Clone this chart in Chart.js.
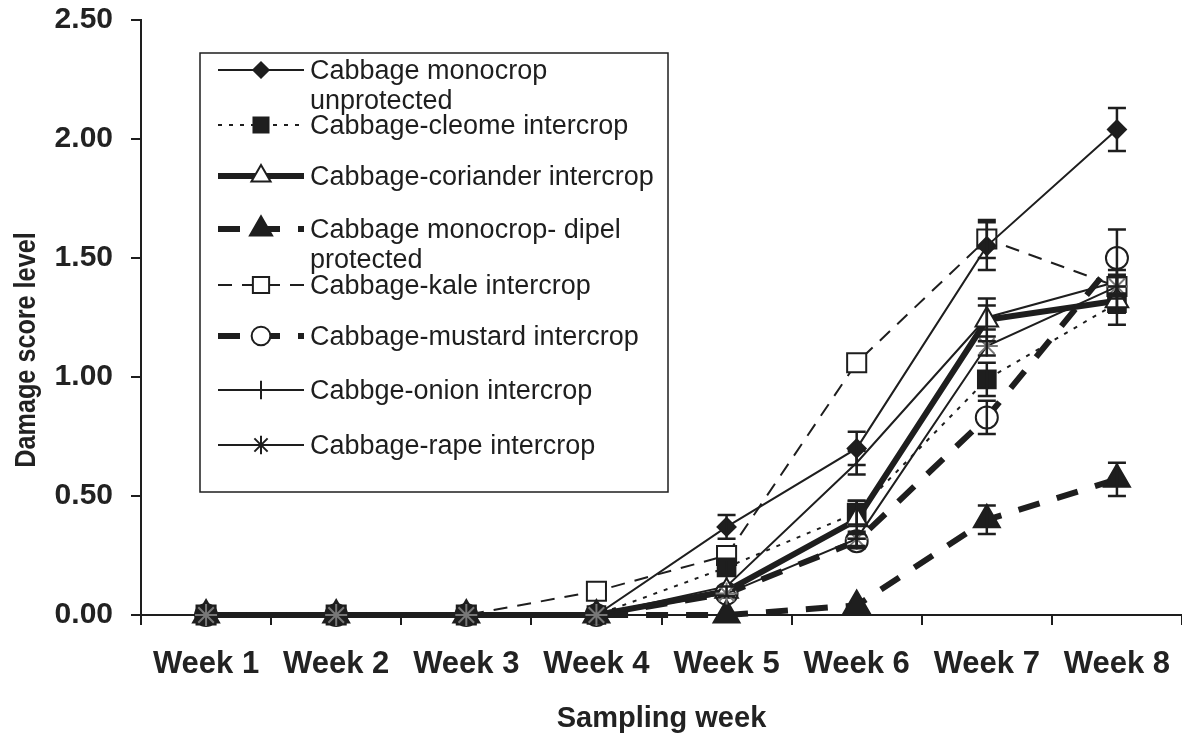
<!DOCTYPE html>
<html lang="en">
<head>
  <meta charset="UTF-8">
  <title>Damage score level</title>
  <script src="https://cdn.jsdelivr.net/npm/chart.js"></script>
  <style>
    html, body { margin: 0; padding: 0; background: #fff; overflow: hidden; }
    #grafico { display: block; }
  </style>
</head>
<body>
  <canvas id="grafico" width="1182" height="736"></canvas>

  <script>
    const semanas = ['Week 1', 'Week 2', 'Week 3', 'Week 4', 'Week 5', 'Week 6', 'Week 7', 'Week 8'];
    const yTicks = [0, 0.5, 1, 1.5, 2, 2.5];
    const tituloY = 'Damage score level';

    const nombres = [
      ['Cabbage monocrop', 'unprotected'],
      ['Cabbage-cleome intercrop'],
      ['Cabbage-coriander intercrop'],
      ['Cabbage monocrop- dipel', 'protected'],
      ['Cabbage-kale intercrop'],
      ['Cabbage-mustard intercrop'],
      ['Cabbge-onion intercrop'],
      ['Cabbage-rape intercrop']
    ];

    const monocrop   = [0, 0, 0, 0,    0.37, 0.70, 1.55, 2.04];
    const cleome     = [0, 0, 0, 0,    0.20, 0.43, 0.99, 1.31];
    const coriander  = [0, 0, 0, 0,    0.10, 0.40, 1.24, 1.32];
    const dipel      = [0, 0, 0, 0,    0.00, 0.04, 0.40, 0.57];
    const kale       = [0, 0, 0, 0.10, 0.25, 1.06, 1.58, 1.38];
    const mustard    = [0, 0, 0, 0,    0.09, 0.31, 0.83, 1.50];
    const onion      = [0, 0, 0, 0,    0.12, 0.64, 1.25, 1.40];
    const rape       = [0, 0, 0, 0,    0.09, 0.32, 1.13, 1.38];

    // error bars (+/-)
    const monocropErr  = [0, 0, 0, 0, 0.05, 0.07, 0.10, 0.09];
    const cleomeErr    = [0, 0, 0, 0, 0.03, 0.05, 0.07, 0.04];
    const corianderErr = [0, 0, 0, 0, 0.02, 0.08, 0.09, 0.10];
    const dipelErr     = [0, 0, 0, 0, 0,    0,    0.06, 0.07];
    const kaleErr      = [0, 0, 0, 0, 0,    0,    0.08, 0.05];
    const mustardErr   = [0, 0, 0, 0, 0,    0.03, 0.07, 0.12];
    const onionErr     = [0, 0, 0, 0, 0,    0.05, 0.05, 0.05];
    const rapeErr      = [0, 0, 0, 0, 0,    0.03, 0.04, 0.04];

    const negro = '#1e1e1e';
    const fuente = "'Liberation Sans', Arial, sans-serif";

    function serie(i, data, err, estilo) {
      return Object.assign({
        label: nombres[i].join(' '),
        data: data,
        errores: err,
        borderColor: negro,
        backgroundColor: negro,
        pointBorderColor: negro,
        pointBackgroundColor: negro,
        pointBorderWidth: 2,
        borderWidth: 2,
        tension: 0,
        clip: false,
        order: 5
      }, estilo);
    }

    const datasets = [
      serie(0, monocrop, monocropErr, { pointStyle: 'rectRot', pointRadius: 9, order: 2 }),
      serie(1, cleome, cleomeErr, { borderDash: [4, 7], pointStyle: 'rect', pointRadius: 12.5 }),
      serie(2, coriander, corianderErr, { borderWidth: 6, pointStyle: 'triangle', pointRadius: 13, pointBackgroundColor: '#fff', order: 4 }),
      serie(3, dipel, dipelErr, { borderWidth: 6, borderDash: [22, 18], pointStyle: 'triangle', pointRadius: 15, order: 1 }),
      serie(4, kale, kaleErr, { borderDash: [14, 10], pointStyle: 'rect', pointRadius: 13.5, pointBackgroundColor: '#fff' }),
      serie(5, mustard, mustardErr, { borderWidth: 6, borderDash: [22, 18], pointStyle: 'circle', pointRadius: 11, pointBackgroundColor: '#fff' }),
      serie(6, onion, onionErr, { pointStyle: 'line', pointRotation: 90, pointRadius: 11 }),
      serie(7, rape, rapeErr, { pointStyle: 'star', pointRadius: 11, order: 0, pointBorderColor: '#777' })
    ];

    // barras de error
    const barrasError = {
      id: 'barrasError',
      afterDatasetsDraw(chart) {
        const ctx = chart.ctx;
        const y = chart.scales.y;
        ctx.save();
        ctx.strokeStyle = negro;
        ctx.lineWidth = 2.5;
        ctx.setLineDash([]);
        chart.data.datasets.forEach((ds, i) => {
          const meta = chart.getDatasetMeta(i);
          ds.errores.forEach((e, j) => {
            if (!e) return;
            const px = meta.data[j].x;
            const arriba = y.getPixelForValue(ds.data[j] + e);
            const abajo = y.getPixelForValue(ds.data[j] - e);
            ctx.beginPath();
            ctx.moveTo(px, arriba); ctx.lineTo(px, abajo);
            ctx.moveTo(px - 9, arriba); ctx.lineTo(px + 9, arriba);
            ctx.moveTo(px - 9, abajo); ctx.lineTo(px + 9, abajo);
            ctx.stroke();
          });
        });
        ctx.restore();
      }
    };

    // titulo del eje Y (condensado) y leyenda dentro del grafico
    const leyenda = {
      id: 'leyenda',
      afterDraw(chart) {
        const ctx = chart.ctx;
        const area = chart.chartArea;

        // el eje X sobresale un poco a la izquierda del eje Y
        ctx.save();
        ctx.strokeStyle = negro;
        ctx.lineWidth = 2;
        ctx.beginPath();
        ctx.moveTo(area.left - 8, area.bottom);
        ctx.lineTo(area.left, area.bottom);
        ctx.stroke();
        ctx.restore();

        ctx.save();
        ctx.translate(27, 350);
        ctx.rotate(-Math.PI / 2);
        ctx.scale(0.84, 1);
        ctx.fillStyle = '#222';
        ctx.font = 'bold 30px ' + fuente;
        ctx.textAlign = 'center';
        ctx.textBaseline = 'middle';
        ctx.fillText(tituloY, 0, 0);
        ctx.restore();

        const filas = [70, 125, 176, 229, 285, 336, 390, 445];
        ctx.save();
        ctx.fillStyle = '#fff';
        ctx.fillRect(200, 53, 468, 439);
        ctx.strokeStyle = negro;
        ctx.lineWidth = 1.5;
        ctx.strokeRect(200, 53, 468, 439);

        chart.data.datasets.forEach((ds, i) => {
          const fy = filas[i];
          ctx.strokeStyle = negro;
          ctx.lineWidth = ds.borderWidth;
          ctx.setLineDash(ds.borderDash || []);
          ctx.beginPath();
          ctx.moveTo(218, fy);
          ctx.lineTo(304, fy);
          ctx.stroke();
          ctx.setLineDash([]);

          ctx.fillStyle = ds.pointBackgroundColor;
          ctx.strokeStyle = negro;
          ctx.lineWidth = ds.pointBorderWidth;
          Chart.helpers.drawPoint(ctx, {
            pointStyle: ds.pointStyle,
            radius: ds.pointRadius * 0.85,
            rotation: ds.pointRotation || 0,
            borderWidth: ds.pointBorderWidth
          }, 261, fy);

          ctx.fillStyle = negro;
          ctx.font = '27px ' + fuente;
          ctx.textBaseline = 'middle';
          ctx.textAlign = 'left';
          nombres[i].forEach((t, k) => ctx.fillText(t, 310, fy + 2 + k * 30));
        });
        ctx.restore();
      }
    };

    new Chart(document.getElementById('grafico'), {
      type: 'line',
      data: { labels: semanas, datasets: datasets },
      plugins: [barrasError, leyenda],
      options: {
        responsive: false,
        animation: false,
        layout: { autoPadding: false, padding: { top: 20, right: 0, left: 0, bottom: 0 } },
        plugins: { legend: { display: false }, tooltip: { enabled: false } },
        scales: {
          x: {
            offset: true,
            border: { color: negro, width: 2 },
            grid: { offset: true, drawOnChartArea: false, tickLength: 10, color: negro, lineWidth: 2 },
            ticks: { color: '#222', padding: 21, maxRotation: 0, font: { family: fuente, size: 31, weight: 'bold' } },
            title: {
              display: true, text: 'Sampling week', color: '#222',
              padding: { top: 0, bottom: 0 },
              font: { family: fuente, size: 29, weight: 'bold' }
            },
            afterFit: (s) => { s.height = 121; s.paddingLeft = 0; s.paddingRight = 0; }
          },
          y: {
            min: 0,
            max: 2.5,
            afterBuildTicks: (s) => { s.ticks = yTicks.map(v => ({ value: v })); },
            border: { color: negro, width: 2 },
            grid: { drawOnChartArea: false, tickLength: 10, color: negro, lineWidth: 2 },
            ticks: {
              color: '#222', padding: 18,
              font: { family: fuente, size: 30, weight: 'bold' },
              callback: (v) => Number(v).toFixed(2)
            },
            afterFit: (s) => { s.width = 141; s.paddingTop = 0; s.paddingBottom = 0; }
          }
        }
      }
    });
  </script>
</body>
</html>
